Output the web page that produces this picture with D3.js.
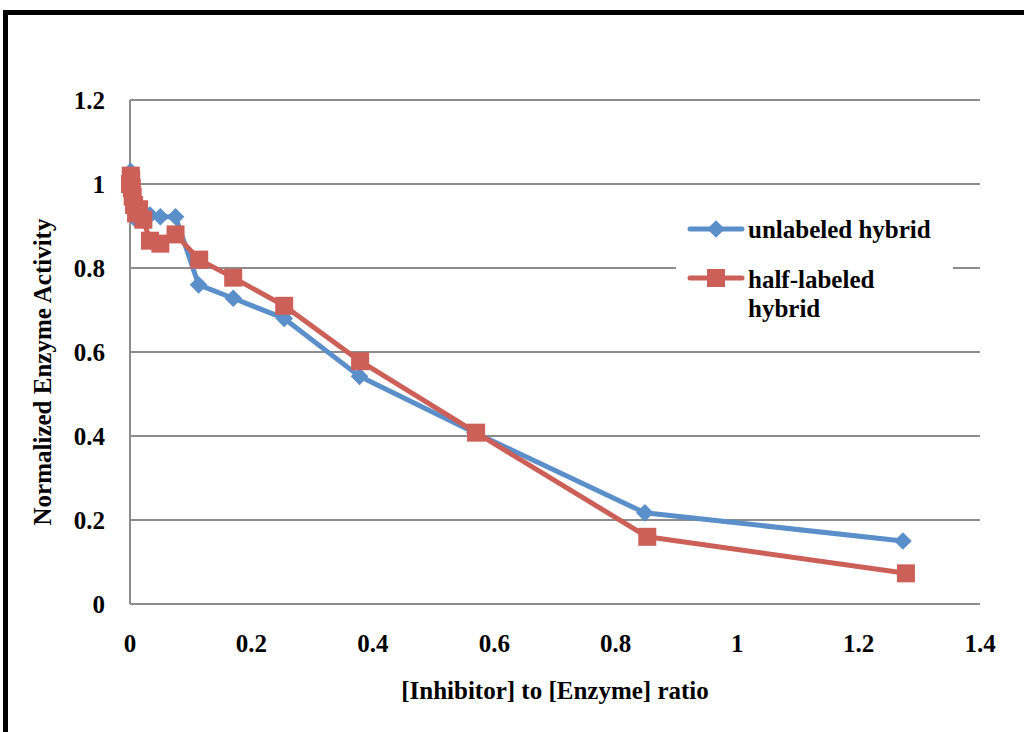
<!DOCTYPE html>
<html>
<head>
<script src="https://d3js.org/d3.v7.min.js"></script>
<style>
  body { margin: 0; background: #ffffff; }
  text { font-family: "Liberation Serif", "Times New Roman", serif; font-weight: bold; fill: #000; font-size: 25px; }
</style>
</head>
<body>
<div id="chart"></div>
<script>
// inhibitor : enzyme ratio
var unlabeledX = [0.001, 0.003, 0.006, 0.01, 0.015, 0.022, 0.033, 0.05, 0.075, 0.113, 0.17, 0.254, 0.378, 0.568, 0.848, 1.273];
var unlabeledY = [1.03, 0.98, 0.94, 0.915, 0.93, 0.935, 0.926, 0.922, 0.922, 0.76, 0.728, 0.68, 0.542, 0.408, 0.217, 0.15];
var halfX = [0, 0.0013, 0.002, 0.003, 0.0044, 0.0067, 0.01, 0.015, 0.022, 0.033, 0.05, 0.075, 0.114, 0.17, 0.254, 0.379, 0.57, 0.852, 1.278];
var halfY = [1.0, 1.02, 1.01, 0.99, 0.97, 0.95, 0.93, 0.94, 0.915, 0.865, 0.858, 0.88, 0.82, 0.777, 0.71, 0.578, 0.408, 0.16, 0.073];
var xTicks = [0, 0.2, 0.4, 0.6, 0.8, 1, 1.2, 1.4];
var yTicks = [0, 0.2, 0.4, 0.6, 0.8, 1, 1.2];
var seriesNames = ["unlabeled hybrid", "half-labeled hybrid"];

var width = 1024, height = 732;
var svg = d3.select("#chart").append("svg")
    .attr("width", width)
    .attr("height", height);

var x = d3.scaleLinear().domain([0, 1.4]).range([130, 980]);
var y = d3.scaleLinear().domain([0, 1.2]).range([604, 100]);

var blue = "#5A8FCA", red = "#CC5F57", grid = "#8c8c8c";

// frame
svg.append("path")
    .attr("d", "M5.5,732 V12.5 H1024")
    .attr("fill", "none")
    .attr("stroke", "#000")
    .attr("stroke-width", 5);

// horizontal grid
svg.append("g").selectAll("line")
    .data(yTicks)
    .enter().append("line")
    .attr("x1", x(0)).attr("x2", x(1.4))
    .attr("y1", function(d) { return y(d); })
    .attr("y2", function(d) { return y(d); })
    .attr("stroke", grid)
    .attr("stroke-width", 2);

// y axis line
svg.append("line")
    .attr("x1", x(0)).attr("x2", x(0))
    .attr("y1", y(1.2)).attr("y2", y(0))
    .attr("stroke", grid)
    .attr("stroke-width", 2);

// tick labels
svg.append("g").selectAll("text")
    .data(yTicks)
    .enter().append("text")
    .attr("x", 105)
    .attr("y", function(d) { return y(d); })
    .attr("dy", "0.35em")
    .attr("text-anchor", "end")
    .text(function(d) { return d; });

svg.append("g").selectAll("text")
    .data(xTicks)
    .enter().append("text")
    .attr("x", function(d) { return x(d); })
    .attr("y", 643)
    .attr("dy", "0.35em")
    .attr("text-anchor", "middle")
    .text(function(d) { return d; });

// axis titles
svg.append("text")
    .attr("transform", "translate(42,372) rotate(-90)")
    .attr("dy", "0.35em")
    .attr("text-anchor", "middle")
    .text("Normalized Enzyme Activity");

svg.append("text")
    .attr("x", 555)
    .attr("y", 690)
    .attr("dy", "0.35em")
    .attr("text-anchor", "middle")
    .text("[Inhibitor] to [Enzyme] ratio");

var line = d3.line()
    .x(function(d) { return x(d[0]); })
    .y(function(d) { return y(d[1]); });

var unlabeled = d3.zip(unlabeledX, unlabeledY);
var half = d3.zip(halfX, halfY);

svg.append("path")
    .datum(unlabeled)
    .attr("d", line)
    .attr("fill", "none")
    .attr("stroke", blue)
    .attr("stroke-width", 5)
    .attr("stroke-linejoin", "round");

svg.append("g").selectAll("path")
    .data(unlabeled)
    .enter().append("path")
    .attr("d", d3.symbol().type(d3.symbolDiamond2).size(200))
    .attr("transform", function(d) { return "translate(" + x(d[0]) + "," + y(d[1]) + ")"; })
    .attr("fill", blue);

svg.append("path")
    .datum(half)
    .attr("d", line)
    .attr("fill", "none")
    .attr("stroke", red)
    .attr("stroke-width", 5)
    .attr("stroke-linejoin", "round");

svg.append("g").selectAll("rect")
    .data(half)
    .enter().append("rect")
    .attr("x", function(d) { return x(d[0]) - 9; })
    .attr("y", function(d) { return y(d[1]) - 9; })
    .attr("width", 18)
    .attr("height", 18)
    .attr("fill", red);

// legend
var legend = svg.append("g");
legend.append("rect")
    .attr("x", 676).attr("y", 200)
    .attr("width", 277).attr("height", 130)
    .attr("fill", "#fff");

legend.append("line")
    .attr("x1", 690).attr("x2", 742).attr("y1", 229).attr("y2", 229)
    .attr("stroke", blue).attr("stroke-width", 5).attr("stroke-linecap", "round");
legend.append("path")
    .attr("d", d3.symbol().type(d3.symbolDiamond2).size(200))
    .attr("transform", "translate(716,229)")
    .attr("fill", blue);
legend.append("text")
    .attr("x", 748).attr("y", 229).attr("dy", "0.35em")
    .text(seriesNames[0]);

legend.append("line")
    .attr("x1", 690).attr("x2", 742).attr("y1", 278).attr("y2", 278)
    .attr("stroke", red).attr("stroke-width", 5).attr("stroke-linecap", "round");
legend.append("rect")
    .attr("x", 707).attr("y", 269).attr("width", 18).attr("height", 18)
    .attr("fill", red);
legend.append("text")
    .attr("x", 748).attr("y", 279).attr("dy", "0.35em")
    .text("half-labeled");
legend.append("text")
    .attr("x", 748).attr("y", 308).attr("dy", "0.35em")
    .text("hybrid");
</script>
</body>
</html>
